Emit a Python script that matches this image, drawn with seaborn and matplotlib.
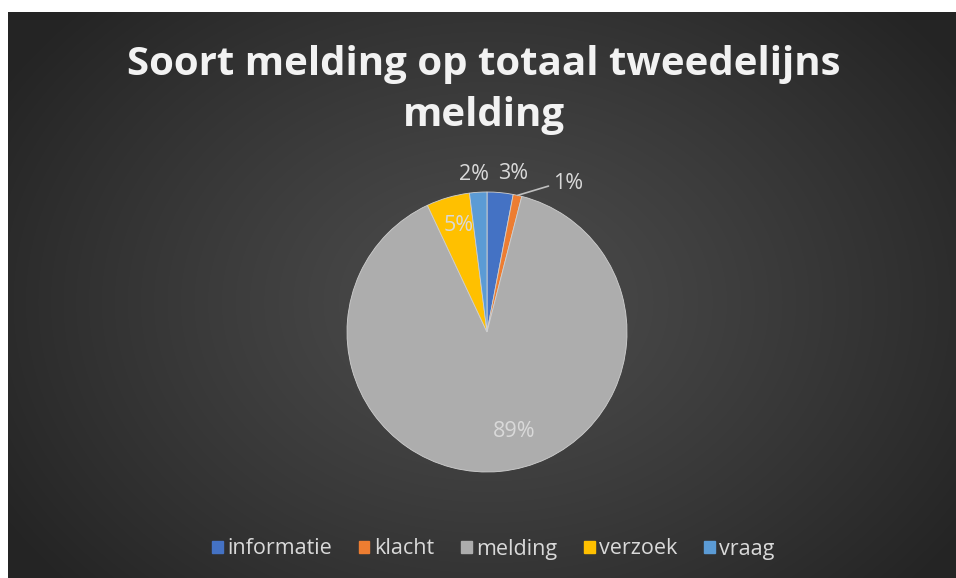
import numpy as np
import matplotlib
matplotlib.use("Agg")
import matplotlib.pyplot as plt
import seaborn as sns

# Share of each report type in all second-line reports (percent)
categories = ["informatie", "klacht", "melding", "verzoek", "vraag"]
shares = [3, 1, 89, 5, 2]
colors = ["#4472C4", "#ED7D31", "#ADADAD", "#FFC000", "#5B9BD5"]

title = "Soort melding op totaal tweedelijns\nmelding"

sns.set_theme(style="dark")
plt.rcParams["font.family"] = ["Open Sans", "DejaVu Sans"]
palette = sns.color_palette(colors)

W, H = 956, 578
fig = plt.figure(figsize=(W / 100, H / 100), dpi=100)
fig.patch.set_facecolor("white")

# Dark radial-gradient backdrop (white margin on top and left)
bg = fig.add_axes([8 / W, 0, 1 - 8 / W, 1 - 12 / H])
bg.set_axis_off()
yy, xx = np.mgrid[0:566, 0:948]
cx, cy = 480, 290
d = np.sqrt(((xx - cx) / 560.0) ** 2 + ((yy - cy) / 420.0) ** 2)
d = np.clip(d, 0, 1)
lo, hi = 0x25 / 255, 0x4c / 255
shade = hi - (hi - lo) * d ** 1.2
bg.imshow(np.dstack([shade] * 3), aspect="auto", extent=[0, 1, 0, 1])
bg.set_xlim(0, 1)
bg.set_ylim(0, 1)

# Title
fig.text(0.506, 1 - 90 / H, title, ha="center", va="center", color="#f2f2f2",
         fontsize=29, fontweight="bold", linespacing=1.38)

# Pie axes: centre ~ (487, 332) px, radius ~ 140 px
R = 140
cxp, cyp = 487, 332
ax = fig.add_axes([(cxp - R) / W, (H - cyp - R) / H, 2 * R / W, 2 * R / H])
ax.set_facecolor("none")
wedges, _ = ax.pie(shares, colors=palette, startangle=90, counterclock=False,
                   radius=1.0, wedgeprops=dict(edgecolor="#d0d0d0", linewidth=0.6))
ax.set_xlim(-1, 1)
ax.set_ylim(-1, 1)
ax.set_aspect("equal")
ax.set_axis_off()

# Percentage labels: (radius factor, angle nudge in degrees) per wedge
placement = {
    "informatie": (1.15, -4.0),
    "klacht": (1.21, -16.0),
    "melding": (0.74, 10.0),
    "verzoek": (0.79, -1.5),
    "vraag": (1.13, 1.0),
}
for w, name, val in zip(wedges, categories, shares):
    mid = np.deg2rad((w.theta1 + w.theta2) / 2 + placement[name][1])
    r = placement[name][0]
    x, y = r * np.cos(mid), r * np.sin(mid)
    ax.text(x, y, f"{val}%", ha="center", va="center", color="#d9d9d9",
            fontsize=15.5, clip_on=False)
    if name == "klacht":
        mid0 = np.deg2rad((w.theta1 + w.theta2) / 2)
        ex, ey = 1.0 * np.cos(mid0), 1.0 * np.sin(mid0)
        ax.plot([ex, x - 0.14], [ey, y - 0.02], color="#bfbfbf", lw=1.2,
                clip_on=False)

# Legend along the bottom
handles = [plt.Rectangle((0, 0), 1, 1, color=c) for c in palette]
leg = fig.legend(handles, categories, loc="center",
                 bbox_to_anchor=(0.516, 1 - 549 / H),
                 ncol=5, frameon=False, fontsize=15.5, handlelength=0.5,
                 handleheight=0.5, handletextpad=0.2, columnspacing=1.25)
for t in leg.get_texts():
    t.set_color("#d9d9d9")

fig.savefig("out.png", dpi=100, facecolor=fig.get_facecolor())
